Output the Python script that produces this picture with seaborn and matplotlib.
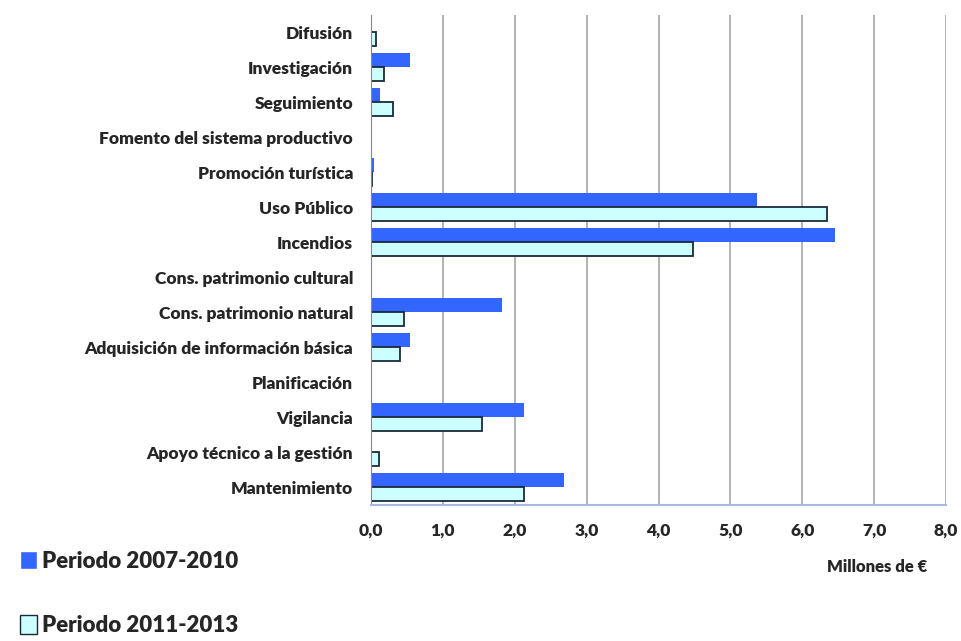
import pandas as pd
import matplotlib
matplotlib.use("Agg")
import matplotlib.pyplot as plt
import seaborn as sns

# data (millions of euros)
categorias = ["Difusión", "Investigación", "Seguimiento", "Fomento del sistema productivo",
              "Promoción turística", "Uso Público", "Incendios", "Cons. patrimonio cultural",
              "Cons. patrimonio natural", "Adquisición de información básica", "Planificación",
              "Vigilancia", "Apoyo técnico a la gestión", "Mantenimiento"]
periodo_2007_2010 = [0.0, 0.54, 0.13, 0.0, 0.04, 5.37, 6.45, 0.0, 1.82, 0.54, 0.0, 2.13, 0.0, 2.68]
periodo_2011_2013 = [0.07, 0.18, 0.31, 0.0, 0.02, 6.34, 4.48, 0.0, 0.46, 0.40, 0.0, 1.54, 0.11, 2.13]
series = ["Periodo 2007-2010", "Periodo 2011-2013"]
x_ticks = [0, 1, 2, 3, 4, 5, 6, 7, 8]

df = pd.DataFrame({
    "categoria": categorias * 2,
    "valor": periodo_2007_2010 + periodo_2011_2013,
    "periodo": [series[0]] * len(categorias) + [series[1]] * len(categorias),
})

sns.set_style("white")
plt.rcParams["font.family"] = ["Lato", "DejaVu Sans"]
plt.rcParams["font.weight"] = "heavy"

fig = plt.figure(figsize=(9.62, 6.41), dpi=100)
ax = fig.add_axes([0.3857, 0.2122, 0.5977, 0.7644])

sns.barplot(data=df, y="categoria", x="valor", hue="periodo", order=categorias,
            hue_order=series, palette=["#3366FF", "#CCFFFF"], orient="h",
            width=0.8, saturation=1, ax=ax)

for p in ax.containers[0]:
    p.set_edgecolor("none")
for p in ax.containers[1]:
    p.set_edgecolor("#1a2a3a")
    p.set_linewidth(1.3)

ax.set_xlim(0, 8)
ax.set_xticks(x_ticks)
ax.set_xticklabels([f"{t:.1f}".replace(".", ",") for t in x_ticks], fontsize=12.5, fontweight="heavy")
ax.tick_params(axis="x", length=0, pad=13)
ax.tick_params(axis="y", length=0, pad=13, labelsize=12.5)
for lab in ax.get_yticklabels():
    lab.set_fontweight("heavy")
ax.set_xlabel("")
ax.set_ylabel("")
ax.grid(axis="x", color="#a6a6a6", linewidth=1.2)
ax.set_axisbelow(True)
for s in ["top", "right"]:
    ax.spines[s].set_visible(False)
ax.spines["left"].set_color("#888888")
ax.spines["bottom"].set_color("#a9b8e8")
ax.spines["bottom"].set_linewidth(1.5)

handles, labels = ax.get_legend_handles_labels()
ax.get_legend().remove()
handles[1].set_edgecolor("#1a2a3a")
fig.legend(handles, labels, loc="upper left", bbox_to_anchor=(0.0, 0.172), frameon=False,
           prop={"size": 16, "weight": "heavy"}, labelspacing=1.95, handlelength=0.75,
           handleheight=0.9, handletextpad=0.25)

fig.text(0.912, 0.108, "Millones de €", fontsize=12, fontweight="heavy", ha="center")

fig.savefig("out.png", dpi=100)
